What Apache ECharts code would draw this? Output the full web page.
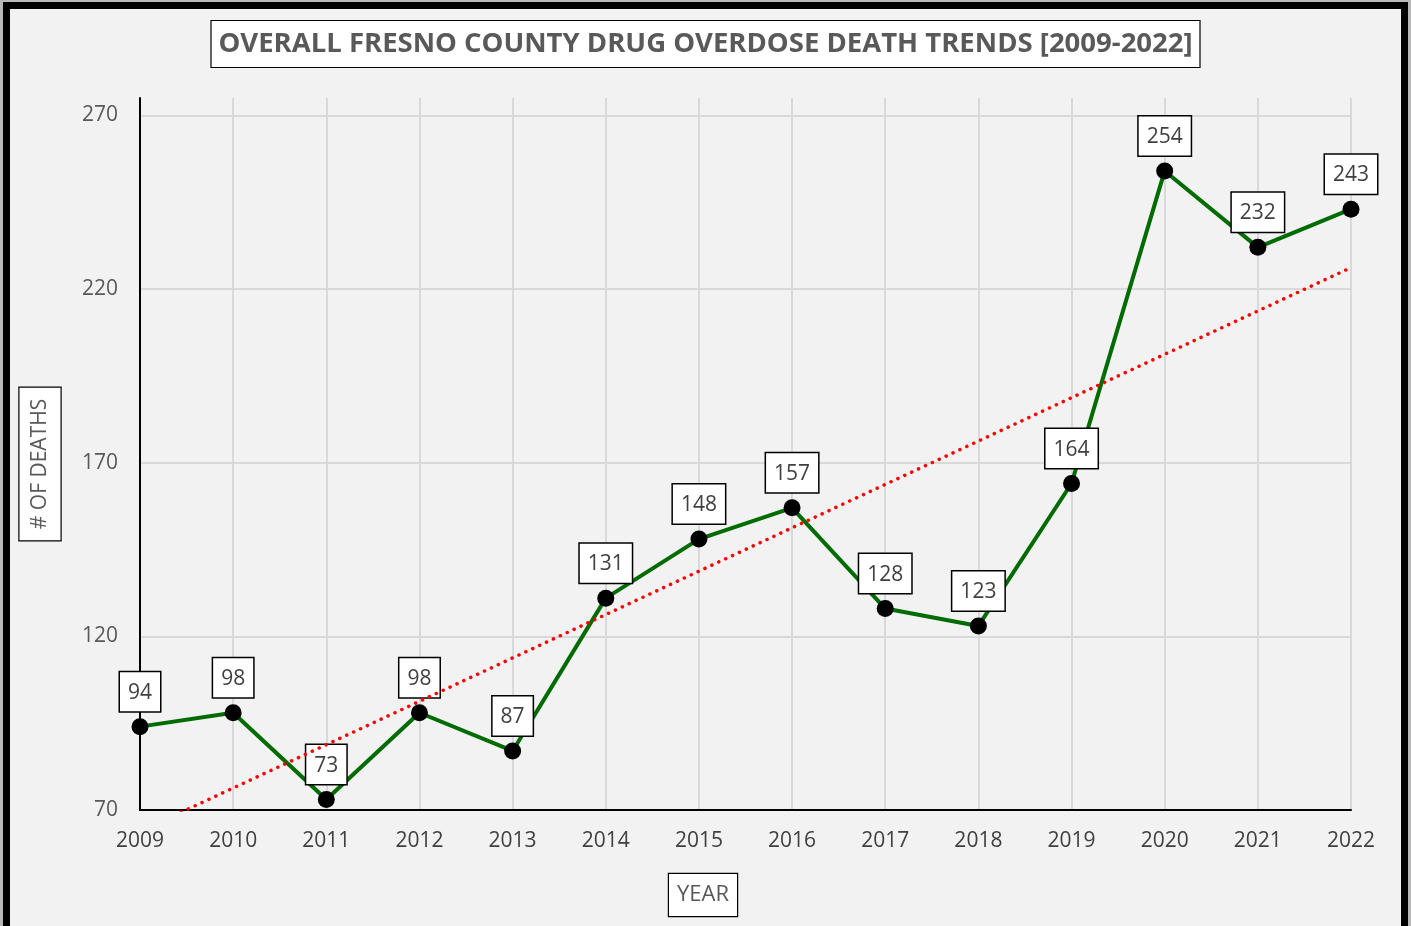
<!DOCTYPE html>
<html>
<head>
<meta charset="utf-8">
<title>Fresno County Overdose Deaths</title>
<script src="https://cdn.jsdelivr.net/npm/echarts@6/dist/echarts.min.js"></script>
<style>
    html, body { margin: 0; padding: 0; background: #b8b8b8; }
    #chart { width: 1411px; height: 926px; }
</style>
</head>
<body>
<div id="chart"></div>
<script>
const years = ['2009', '2010', '2011', '2012', '2013', '2014', '2015', '2016', '2017', '2018', '2019', '2020', '2021', '2022']
const deaths = [94, 98, 73, 98, 87, 131, 148, 157, 128, 123, 164, 254, 232, 243]
const yMin = 70
const yMax = 275
const yStep = 50

// least squares trend line, same as the excel "linear trendline"
const n = deaths.length
const meanX = (n - 1) / 2
const meanY = deaths.reduce((a, b) => a + b, 0) / n
let sxy = 0, sxx = 0
deaths.forEach((v, i) => {
    sxy += (i - meanX) * (v - meanY)
    sxx += (i - meanX) * (i - meanX)
})
const slope = sxy / sxx
const intercept = meanY - slope * meanX
const trend = [[0, intercept], [n - 1, intercept + slope * (n - 1)]]

const font = '"Open Sans", "Noto Sans", sans-serif'

let chart = echarts.init(document.getElementById('chart'))
chart.setOption({
    backgroundColor: 'transparent',
    animation: false,
    title: {
        text: 'OVERALL FRESNO COUNTY DRUG OVERDOSE DEATH TRENDS [2009-2022]',
        left: 'center',
        top: 20,
        padding: [10, 8, 10, 8],
        backgroundColor: '#ffffff',
        borderColor: '#000000',
        borderWidth: 1.2,
        textStyle: {
            fontFamily: font,
            fontWeight: 'bold',
            fontSize: 27.5,
            color: '#595959',
            lineHeight: 28
        }
    },
    graphic: [
        {
            type: 'rect',
            z: -10,
            shape: { x: 6.5, y: 5.5, width: 1398, height: 940 },
            style: { fill: '#f2f2f2', stroke: '#000000', lineWidth: 7 }
        },
        {
            type: 'text',
            x: 40,
            y: 464,
            rotation: Math.PI / 2,
            style: {
                text: '# OF DEATHS',
                font: '21px ' + font,
                fill: '#595959',
                align: 'center',
                verticalAlign: 'middle',
                backgroundColor: '#ffffff',
                borderColor: '#000000',
                borderWidth: 1.2,
                padding: [10, 11, 10, 11]
            }
        },
        {
            type: 'text',
            x: 703,
            y: 895,
            style: {
                text: 'YEAR',
                font: '22px ' + font,
                fill: '#595959',
                align: 'center',
                verticalAlign: 'middle',
                backgroundColor: '#ffffff',
                borderColor: '#000000',
                borderWidth: 1.2,
                padding: [10, 8, 10, 8]
            }
        }
    ],
    grid: {
        left: 140,
        right: 60,
        top: 98,
        bottom: 116
    },
    xAxis: {
        type: 'category',
        data: years,
        boundaryGap: false,
        axisLine: { lineStyle: { color: '#000000', width: 2 } },
        axisTick: { show: false },
        axisLabel: {
            margin: 21,
            fontFamily: font,
            fontSize: 21,
            color: '#404040'
        },
        splitLine: {
            show: true,
            lineStyle: { color: '#d9d9d9', width: 2 }
        }
    },
    yAxis: {
        type: 'value',
        min: yMin,
        max: yMax,
        interval: yStep,
        axisLine: { show: true, lineStyle: { color: '#000000', width: 2 } },
        axisTick: { show: false },
        axisLabel: {
            margin: 22,
            fontFamily: font,
            fontSize: 21,
            color: '#595959',
            showMaxLabel: false
        },
        splitLine: {
            show: true,
            showMaxLine: false,
            lineStyle: { color: '#d9d9d9', width: 2 }
        }
    },
    series: [
        {
            name: 'Deaths',
            type: 'line',
            data: deaths,
            symbol: 'circle',
            symbolSize: 17,
            itemStyle: { color: '#000000' },
            lineStyle: { color: '#006b00', width: 4 },
            z: 3,
            label: {
                show: true,
                position: 'top',
                distance: 7,
                fontFamily: font,
                fontSize: 21,
                lineHeight: 21,
                color: '#404040',
                backgroundColor: '#ffffff',
                borderColor: '#000000',
                borderWidth: 1.5,
                padding: [10, 8, 8, 8]
            }
        },
        {
            name: 'Trend',
            type: 'line',
            data: trend,
            symbol: 'none',
            silent: true,
            clip: true,
            z: 4,
            lineStyle: {
                color: '#ff0000',
                width: 3.5,
                type: [0.1, 7.5],
                cap: 'round'
            }
        }
    ]
})
</script>
</body>
</html>
